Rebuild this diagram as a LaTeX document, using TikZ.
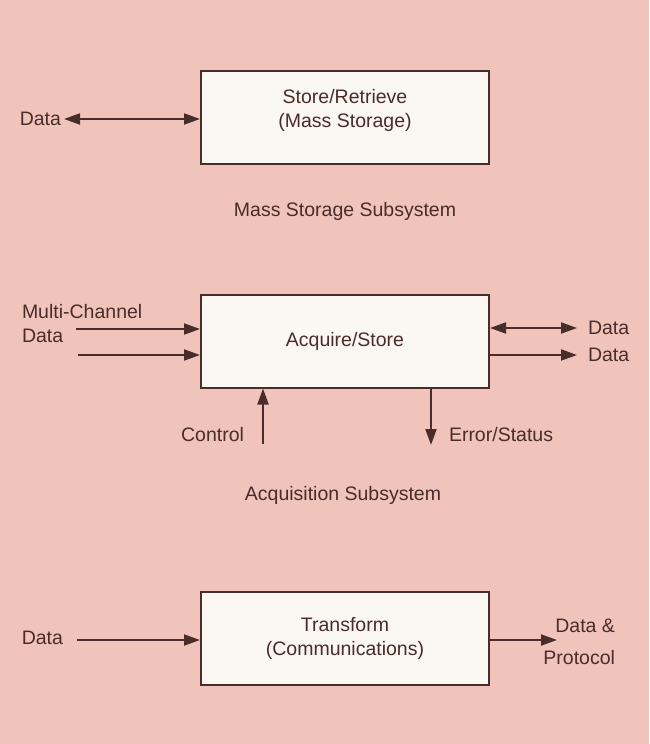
\documentclass[tikz,border=0pt]{standalone}
\usepackage{fontspec}
\setmainfont{Liberation Sans}
\usepackage{tikz}
\usetikzlibrary{arrows.meta,positioning,calc}
\usepackage{xcolor}
\definecolor{paper}{RGB}{240,196,186}
\definecolor{boxfill}{RGB}{251,247,243}
\definecolor{ink}{RGB}{74,44,42}

\begin{document}
\begin{tikzpicture}[
    x=1pt, y=-1pt,
    box/.style={rectangle, draw=ink, fill=boxfill, line width=2pt, minimum width=288pt, minimum height=93pt, align=center, font=\fontsize{19.5}{24}\selectfont, text=ink},
    lbl/.style={inner sep=2pt, text=ink, font=\fontsize{19.5}{24}\selectfont},
    >={Triangle[length=16pt,width=11pt]}, line width=2pt
]
    \fill[paper] (0,0) rectangle (649,744);
    \useasboundingbox (0,0) rectangle (649,744);

    % mass storage
    \node[box, text depth=18pt] (store) at (345,117.5) {Store/Retrieve\\(Mass Storage)};
    \node[lbl, anchor=east] (sdata) at (64,119) {Data};
    \draw[ink, <->] (sdata.east) -- (sdata.east -| store.west);
    \node[lbl] (mss) at (345,211) {Mass Storage Subsystem};

    % acquisition
    \node[box] (acq) at (345,341) {Acquire/Store};
    \node[lbl, anchor=west, align=left] (mcdata) at (19,324) {Multi-Channel\\Data};
    \coordinate (in1) at (76,329);
    \coordinate (in2) at (78,355);
    \draw[ink, ->] (in1) -- (in1 -| acq.west);
    \draw[ink, ->] (in2) -- (in2 -| acq.west);
    \node[lbl, anchor=west, inner xsep=10pt] (aout1) at (577,328) {Data};
    \node[lbl, anchor=west, inner xsep=10pt] (aout2) at (577,355) {Data};
    \draw[ink, <->] (aout1.west -| acq.east) -- (aout1.west);
    \draw[ink, ->] (aout2.west -| acq.east) -- (aout2.west);
    \coordinate (ctlin) at (263,444);
    \coordinate (errout) at (431,445);
    \node[lbl, anchor=east] (ctl) at (247,435) {Control};
    \node[lbl, anchor=west] (err) at (446,435) {Error/Status};
    \draw[ink, ->] (ctlin) -- (ctlin |- acq.south);
    \draw[ink, ->] (errout |- acq.south) -- (errout);
    \node[lbl] (acs) at (343,495) {Acquisition Subsystem};

    % communications
    \node[box] (trn) at (345,638.5) {Transform\\(Communications)};
    \node[lbl, anchor=east] (tdata) at (66,638) {Data};
    \coordinate (tin) at (77,640);
    \draw[ink, ->] (tin) -- (tin -| trn.west);
    \node[lbl, anchor=east, align=right] (proto) at (618,642) {Data \&\\[8pt]Protocol};
    \coordinate (tout) at (557,640);
    \draw[ink, ->] (tout -| trn.east) -- (tout);
\end{tikzpicture}
\end{document}
